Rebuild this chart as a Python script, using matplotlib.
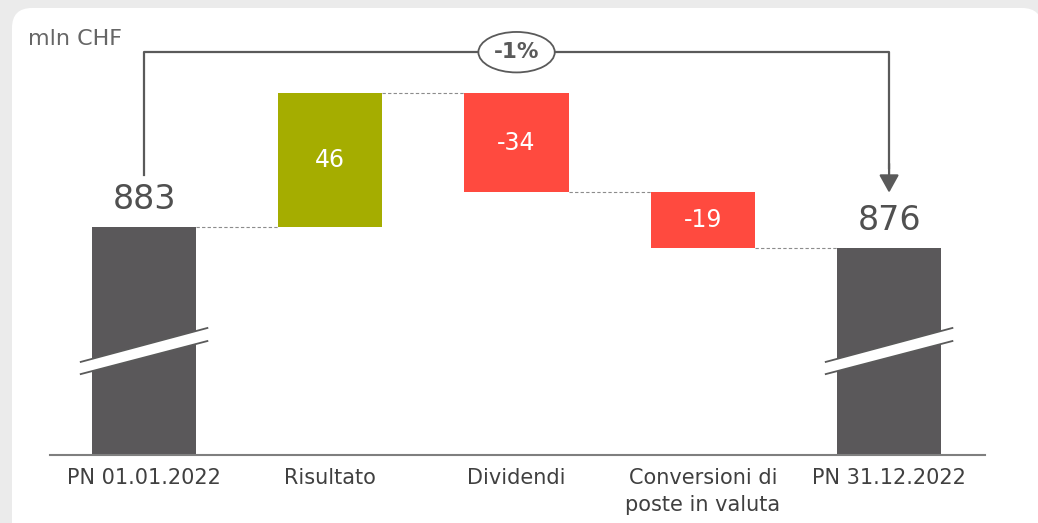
import numpy as np
import matplotlib
matplotlib.use("Agg")
import matplotlib.pyplot as plt
from matplotlib.patches import FancyBboxPatch, Polygon
from matplotlib.transforms import blended_transform_factory

# data
categories = ['PN 01.01.2022', 'Risultato', 'Dividendi',
              'Conversioni di\nposte in valuta', 'PN 31.12.2022']
start_value = 883
changes = [46, -34, -19]
end_value = 876
change_pct = '-1%'
unit = 'mln CHF'

dark = '#5a585a'
green = '#a5ad00'
red = '#ff4a3f'
line_col = '#5a5a5a'

plt.rcParams['font.family'] = ['DejaVu Sans']

fig = plt.figure(figsize=(10.38, 5.23), dpi=100)
fig.patch.set_facecolor('#ebebeb')

# background panel (pixel coords)
bg = fig.add_axes([0, 0, 1, 1], zorder=-1)
bg.set_xlim(0, 1038)
bg.set_ylim(523, 0)
bg.axis('off')
bg.add_patch(FancyBboxPatch((12, 8), 1030, 600, boxstyle='round,pad=0,rounding_size=20',
                            fc='white', ec='none'))
bg.text(28, 39, unit, fontsize=16, color='#666666', va='center', ha='left')

W, H = 1038, 523
ax = fig.add_axes([50 / W, (H - 455) / H, 935 / W, 435 / H])
ax.patch.set_visible(False)

levels = [start_value]
for c in changes:
    levels.append(levels[-1] + c)

bw = 0.56
x = np.arange(len(categories))

# totals
ax.bar(x[0], start_value, width=bw, color=dark, zorder=2)
ax.bar(x[-1], end_value, width=bw, color=dark, zorder=2)
# changes
for i, c in enumerate(changes):
    col = green if c > 0 else red
    ax.bar(x[i + 1], c, bottom=levels[i], width=bw, color=col, zorder=2)
    ax.text(x[i + 1], levels[i] + c / 2, f'{c:d}', color='white', fontsize=17,
            ha='center', va='center', zorder=3)

# connectors
for i in range(len(levels)):
    ax.plot([x[i] + bw / 2, x[i + 1] - bw / 2], [levels[i], levels[i]],
            ls=(0, (3, 2)), lw=0.8, color='#8c8c8c', zorder=1)

# total labels
for xi, v in [(x[0], start_value), (x[-1], end_value)]:
    ax.annotate(f'{v}', (xi, v), xytext=(0, 8), textcoords='offset points',
                ha='center', va='bottom', fontsize=24, color='#505050')

ax.set_xlim(-0.505, 4.515)
ax.set_ylim(805, 954)

trans = blended_transform_factory(ax.transData, ax.transAxes)

# axis break marks
for xi in (x[0], x[-1]):
    x0, x1 = xi - 0.34, xi + 0.34
    ax.add_patch(Polygon([(x0, 0.186), (x0, 0.214), (x1, 0.292), (x1, 0.262)],
                         closed=True, fc='white', ec='none', transform=trans, zorder=3))
    ax.plot([x0, x1], [0.214, 0.292], color=line_col, lw=1.3, transform=trans, zorder=4)
    ax.plot([x0, x1], [0.186, 0.262], color=line_col, lw=1.3, transform=trans, zorder=4)

# bracket with percentage change
ytop = 0.926
ax.plot([x[0], x[0], x[-1], x[-1]], [0.644, ytop, ytop, 0.66], color=line_col, lw=1.6,
        transform=trans, zorder=2, clip_on=False)
ax.annotate('', xy=(x[-1], 0.603), xytext=(x[-1], 0.67), xycoords=trans, textcoords=trans,
            arrowprops=dict(arrowstyle='-|>,head_width=0.5,head_length=0.9', mutation_scale=12,
                            color=line_col, lw=1.6, shrinkA=0, shrinkB=0))
ax.text((x[0] + x[-1]) / 2, ytop, change_pct, transform=trans, ha='center', va='center',
        fontsize=15.5, fontweight='bold', color=line_col, zorder=5,
        bbox=dict(boxstyle='ellipse,pad=0.2', fc='white', ec=line_col, lw=1.3))

# axes styling
for s in ['top', 'right', 'left']:
    ax.spines[s].set_visible(False)
ax.spines['bottom'].set_color('#7f7f7f')
ax.spines['bottom'].set_linewidth(1.5)
ax.spines['bottom'].set_zorder(5)
ax.set_yticks([])
ax.set_xticks(x)
ax.set_xticklabels(categories, fontsize=15, color='#404040', linespacing=1.45, va='top')
ax.tick_params(axis='x', length=0, pad=9)

fig.savefig('out.png', dpi=100, facecolor=fig.get_facecolor())
